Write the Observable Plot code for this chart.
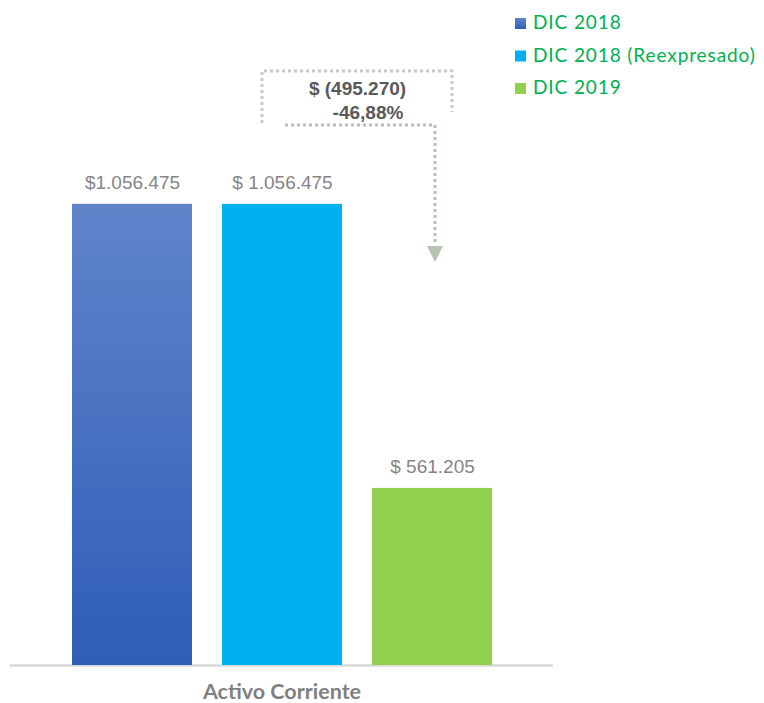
<!DOCTYPE html>
<html>
<head>
<meta charset="utf-8">
<script src="https://cdn.jsdelivr.net/npm/d3@7"></script>
<script src="https://cdn.jsdelivr.net/npm/@observablehq/plot@0.6"></script>
<style>
  html, body { margin: 0; padding: 0; background: #ffffff; }
  #chart { position: relative; width: 764px; height: 703px; }
</style>
</head>
<body>
<div id="chart"></div>
<script>
// ---- data ----
const category = "Activo Corriente";
const series = ["DIC 2018", "DIC 2018 (Reexpresado)", "DIC 2019"];
const values = [1056475, 1056475, 561205];
const valueLabels = ["$1.056.475", "$ 1.056.475", "$ 561.205"];
const colors = ["url(#gradBlue)", "#00b0f0", "#92d050"];
const legendColors = ["#4068c0", "#00b0f0", "#92d050"];
const yMin = 252500;   // axis minimum (chart does not start at zero)
const yMax = 1377000;

const data = series.map((s, i) => ({series: s, value: values[i], label: valueLabels[i], color: colors[i]}));

const chart = Plot.plot({
  width: 764,
  height: 703,
  marginLeft: 10,
  marginRight: 211,
  marginTop: 20,
  marginBottom: 38,
  style: {background: "#ffffff"},
  x: {type: "band", domain: series, paddingInner: 0.2, paddingOuter: 0.4, axis: null},
  y: {domain: [yMin, yMax], axis: null},
  color: {type: "identity"},
  marks: [
    Plot.ruleY([yMin], {stroke: "#d9d9d9", strokeWidth: 2.5}),
    Plot.barY(data, {x: "series", y1: () => yMin, y2: "value", fill: "color"}),
    Plot.text(data, {x: "series", y: "value", text: "label", lineAnchor: "bottom", dy: -15,
      fill: "#858585", fontSize: 19, fontFamily: "Liberation Sans, Arial, sans-serif"}),
    Plot.text([category], {frameAnchor: "bottom", lineAnchor: "bottom", dy: 33,
      fill: "#7f7f7f", fontSize: 21.5, fontWeight: "bold", fontFamily: "Lato, sans-serif"})
  ]
});

const svg = d3.select(chart);
const defs = svg.insert("defs", ":first-child");
const g = defs.append("linearGradient").attr("id", "gradBlue")
  .attr("x1", 0).attr("y1", 0).attr("x2", 0).attr("y2", 1);
g.append("stop").attr("offset", "0%").attr("stop-color", "#6084ca");
g.append("stop").attr("offset", "100%").attr("stop-color", "#2e5db7");

// ---- annotation (difference between DIC 2019 and DIC 2018) ----
const xs = chart.scale("x");
const diff = values[2] - values[0];
const pct = diff / values[0] * 100;
const fmtNum = n => Math.abs(n).toString().replace(/\B(?=(\d{3})+(?!\d))/g, ".");
const line1 = "$ (" + fmtNum(diff) + ")";
const line2 = pct.toFixed(2).replace(".", ",") + "%";

const ax = xs.apply(series[2]) + xs.bandwidth / 2 + 3;
const ann = svg.append("g");
ann.append("path")
  .attr("d", "M262,123 V71 H452 V112")
  .attr("fill", "none").attr("stroke", "#c9c9c9").attr("stroke-width", 3).attr("stroke-dasharray", "3 3");
ann.append("path")
  .attr("d", `M285,125 H${ax} V245`)
  .attr("fill", "none").attr("stroke", "#b5c4b0").attr("stroke-width", 3).attr("stroke-dasharray", "3 3");
ann.append("path")
  .attr("d", `M${ax - 8},246 L${ax + 8},246 L${ax},262 Z`)
  .attr("fill", "#b5c4b0");
ann.append("text").attr("x", 357.5).attr("y", 95).attr("text-anchor", "middle")
  .attr("font-family", "Liberation Sans, Arial, sans-serif").attr("font-weight", "bold")
  .attr("font-size", 19).attr("fill", "#595959").text(line1);
ann.append("text").attr("x", 368).attr("y", 119).attr("text-anchor", "middle")
  .attr("font-family", "Liberation Sans, Arial, sans-serif").attr("font-weight", "bold")
  .attr("font-size", 19).attr("fill", "#595959").text(line2);

// ---- legend ----
const leg = svg.append("g").attr("font-family", "Lato, sans-serif").attr("font-size", 19)
  .attr("fill", "#00b050").attr("text-anchor", "start");
series.forEach((s, i) => {
  const by = 29 + i * 32.5;
  leg.append("rect").attr("x", 515).attr("y", by - 11).attr("width", 11).attr("height", 11)
    .attr("fill", i === 0 ? "url(#gradBlue)" : legendColors[i]);
  leg.append("text").attr("x", 533).attr("y", by).attr("letter-spacing", 0.9).text(s);
});

document.getElementById("chart").appendChild(chart);
</script>
</body>
</html>
